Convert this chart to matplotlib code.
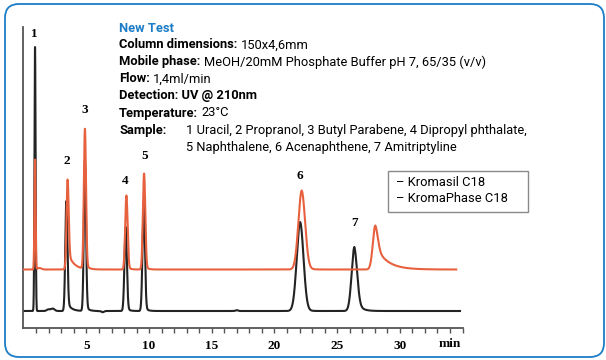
import numpy as np
import matplotlib
matplotlib.use("Agg")
import matplotlib.pyplot as plt
from matplotlib import font_manager
from matplotlib.patches import FancyBboxPatch, Rectangle

# peak table, one entry per compound
peak_no = ["1", "2", "3", "4", "5", "6", "7"]

# Kromasil C18 (black trace)
black_rt = [0.90, 3.40, 4.88, 8.13, 9.57, 22.05, 26.38]
black_h = [264, 110, 150, 84, 109, 89, 64]
black_sigma = [0.045, 0.085, 0.085, 0.095, 0.095, 0.27, 0.22]
black_tail = [0.0, 0.10, 0.05, 0.05, 0.05, 0.05, 0.25]
black_tau = [0.1, 0.3, 0.2, 0.2, 0.2, 0.3, 0.35]
black_base = 17
black_end = 34.8

# KromaPhase C18 (red trace)
red_rt = [0.90, 3.50, 4.88, 8.19, 9.60, 22.18, 28.05]
red_h = [110, 90, 140, 74, 96, 79, 44]
red_sigma = [0.045, 0.085, 0.085, 0.095, 0.095, 0.27, 0.20]
red_tail = [0.0, 0.20, 0.05, 0.05, 0.05, 0.08, 0.55]
red_tau = [0.1, 0.45, 0.2, 0.2, 0.2, 0.3, 0.9]
red_base = 58.5
red_end = 34.5

# small baseline disturbances (time, height, sigma)
black_minor = [(1.95, 1.5, 0.12), (2.3, 2.5, 0.15), (6.3, -1.2, 0.1), (17.0, 0.8, 0.1)]
red_minor = [(1.25, 1.5, 0.15)]

# peak number label positions (time, signal)
label_t = [0.82, 3.42, 4.85, 8.07, 9.63, 22.06, 26.37]
label_y = [294, 167, 218, 147, 172, 152, 105]

tick_major = [5, 10, 15, 20, 25, 30]

info_head = "New Test"
info_bold = ["Column dimensions:", "Mobile phase:", "Flow:", "Detection: UV @ 210nm", "Temperature:", "Sample:"]
info_value = ["150x4,6mm", "MeOH/20mM Phosphate Buffer pH 7, 65/35 (v/v)", "1,4ml/min", "", "23°C", ""]
sample_lines = ["1 Uracil, 2 Propranol, 3 Butyl Parabene, 4 Dipropyl phthalate,",
                "5 Naphthalene, 6 Acenaphthene, 7 Amitriptyline"]
legend_lines = ["– Kromasil C18", "– KromaPhase C18"]

BLACK = "#232323"
RED = "#e8613f"
BLUE = "#1c7dc6"

names = {f.name for f in font_manager.fontManager.ttflist}
narrow = "Liberation Sans Narrow" if "Liberation Sans Narrow" in names else "Roboto"
SANS = [narrow, "DejaVu Sans"]
SERIF = ["Liberation Serif", "DejaVu Serif"]


def trace(t, rts, hs, sigmas, tails, taus, minor, base):
    y = np.full_like(t, base, dtype=float)
    for rt, h, s, f, tau in zip(rts, hs, sigmas, tails, taus):
        d = t - rt
        g = np.exp(-d ** 2 / (2 * s ** 2))
        right = (1 - f) * g + f * np.exp(-np.clip(d, 0, None) / tau)
        y += h * np.where(d < 0, g, right)
    for rt, h, s in minor:
        y += h * np.exp(-(t - rt) ** 2 / (2 * s ** 2))
    return y


fig = plt.figure(figsize=(6.06, 3.6), dpi=100)

# rounded blue frame
frame = FancyBboxPatch((0.05, 0.03), 5.99, 3.53, boxstyle="round,pad=0,rounding_size=0.14",
                       transform=fig.dpi_scale_trans, facecolor="none", edgecolor=BLUE,
                       linewidth=1.3, zorder=0)
fig.patches.append(frame)

ax = fig.add_axes([22.5 / 606, (360 - 328) / 360, 440 / 606, 301 / 360])
ax.set_xlim(-0.1, 35.0)
ax.set_ylim(0, 301)
ax.patch.set_alpha(0)

t_black = np.linspace(0, black_end, 6000)
t_red = np.linspace(0, red_end, 6000)
ax.plot(t_black, trace(t_black, black_rt, black_h, black_sigma, black_tail, black_tau, black_minor, black_base),
        color=BLACK, lw=1.5, zorder=2)
ax.plot(t_red, trace(t_red, red_rt, red_h, red_sigma, red_tail, red_tau, red_minor, red_base),
        color=RED, lw=1.5, zorder=3)

for s in ["top", "right"]:
    ax.spines[s].set_visible(False)
for s in ["left", "bottom"]:
    ax.spines[s].set_color("#555555")
    ax.spines[s].set_linewidth(1.3)
ax.set_yticks([])
ax.set_xticks(range(1, 36))
ax.set_xticklabels([str(v) if v in tick_major else "" for v in range(1, 36)],
                   family=SERIF, fontweight="bold", fontsize=9.5)
ax.tick_params(axis="x", direction="out", length=3.5, width=1.0, color="#555555", pad=5)
ax.text(34.9, -16, "min", ha="right", va="center", family=SERIF, fontweight="bold", fontsize=9.5)

for no, lt, ly in zip(peak_no, label_t, label_y):
    ax.text(lt, ly, no, ha="center", va="center", family=SERIF, fontweight="bold", fontsize=9.5)

# method description
fs = 9.3
fig.text(119 / 606, 1 - 28 / 360, info_head, color=BLUE, family=SANS, fontweight="bold",
         fontsize=fs, va="center", ha="left")
for i, (b, v) in enumerate(zip(info_bold, info_value)):
    y = 1 - (45 + 17 * i) / 360
    tb = fig.text(119 / 606, y, b, family=SANS, fontweight="bold", fontsize=fs, va="center", ha="left")
    if v:
        ax.annotate(v, xy=(1, 0.5), xycoords=tb, xytext=(2.5, 0), textcoords="offset points",
                    va="center", ha="left", family=SANS, fontsize=fs, annotation_clip=False)
for i, line in enumerate(sample_lines):
    fig.text(186 / 606, 1 - (130 + 17 * i) / 360, line, family=SANS, fontsize=fs, va="center", ha="left")

# legend box
fig.patches.append(Rectangle((388, 360 - 212), 140, 41, transform=None, facecolor="white",
                             edgecolor="#8a8a8a", linewidth=1.0, zorder=5))
for i, line in enumerate(legend_lines):
    fig.text(396 / 606, 1 - (182 + 17 * i) / 360, line, family=SANS, fontsize=fs, va="center", ha="left",
             zorder=6)

fig.savefig("out.png", dpi=100)
